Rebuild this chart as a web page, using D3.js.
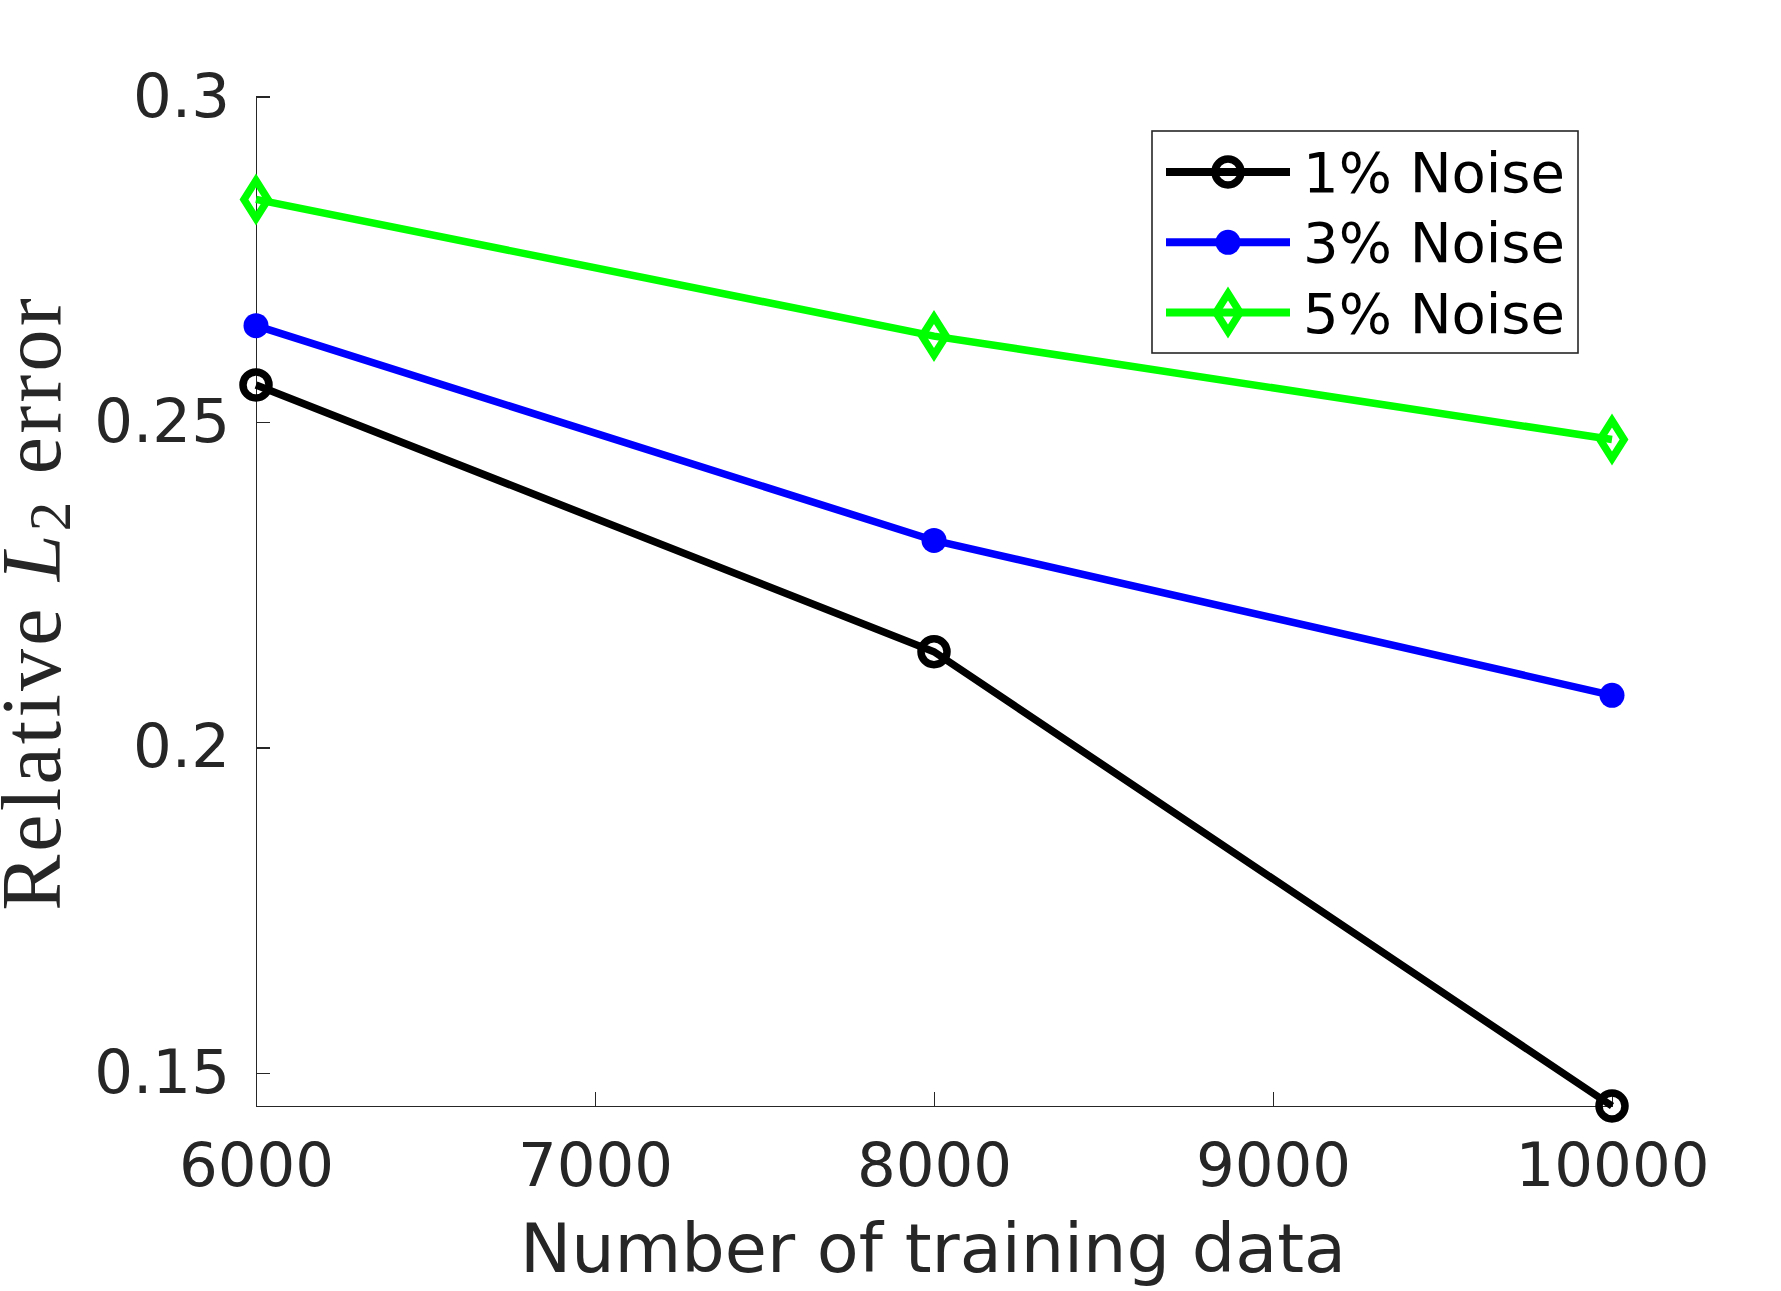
<html>
  <head>
    <meta charset="utf-8">
    <title>noise error</title>
    <style>
      body { margin: 0; background: #fff; }
      .axis path, .axis line { fill: none; stroke: #262626; stroke-width: 1.6; shape-rendering: crispEdges; }
      .axis text { font-family: "DejaVu Sans", sans-serif; font-size: 61px; fill: #262626; }
    </style>
  </head>
  <body>
    <script src="https://cdn.jsdelivr.net/npm/d3@7"></script>
    <script>
      var width = 1781;
      var height = 1291;

      // data
      var trainSizes = [6000, 8000, 10000];
      var noise1 = [0.2557, 0.2147, 0.1449];
      var noise3 = [0.2648, 0.2318, 0.2080];
      var noise5 = [0.2842, 0.2632, 0.2473];
      var seriesNames = ['1% Noise', '3% Noise', '5% Noise'];
      var xTicks = [6000, 7000, 8000, 9000, 10000];
      var yTicks = [0.15, 0.2, 0.25, 0.3];

      var series = [
        {name: seriesNames[0], values: noise1, color: '#000000', marker: 'circle'},
        {name: seriesNames[1], values: noise3, color: '#0000ff', marker: 'dot'},
        {name: seriesNames[2], values: noise5, color: '#00ff00', marker: 'diamond'}
      ];

      var svg = d3.select('body').append('svg')
        .attr('width', width).attr('height', height);

      var xScale = d3.scaleLinear().domain([6000, 10000]).range([256, 1612]);
      var yScale = d3.scaleLinear().domain([0.1449, 0.3]).range([1106, 96.6]);

      var xAxis = d3.axisBottom(xScale).tickValues(xTicks)
        .tickSizeInner(-14).tickSizeOuter(0).tickPadding(37)
        .tickFormat(d3.format('d'));
      var yAxis = d3.axisLeft(yScale).tickValues(yTicks)
        .tickSizeInner(-14).tickSizeOuter(0).tickPadding(26)
        .tickFormat(function(d){ return String(d); });

      svg.append('g').attr('class', 'axis')
        .attr('transform', 'translate(0,1106)').call(xAxis);
      svg.append('g').attr('class', 'axis')
        .attr('transform', 'translate(256,0)').call(yAxis);

      // axis labels
      svg.append('text')
        .attr('x', 933).attr('y', 1272)
        .attr('text-anchor', 'middle')
        .style('font-family', '"DejaVu Sans", sans-serif')
        .style('font-size', '68.5px').style('fill', '#262626')
        .text('Number of training data');

      var ylab = svg.append('text')
        .attr('transform', 'translate(60,603) rotate(-90)')
        .attr('text-anchor', 'middle')
        .style('font-family', '"Liberation Serif", serif')
        .style('font-size', '84px').style('letter-spacing', '3.2px')
        .style('fill', '#262626');
      ylab.append('tspan').text('Relative ');
      ylab.append('tspan').style('font-style', 'italic').text('L');
      ylab.append('tspan').attr('dy', 10).style('font-size', '59px').text('2');
      ylab.append('tspan').attr('dy', -10).text(' error');

      var line = d3.line()
        .x(function(d, i){ return xScale(trainSizes[i]); })
        .y(function(d){ return yScale(d); });

      function drawMarker(g, type, color, cx, cy) {
        if (type === 'circle') {
          g.append('circle').attr('cx', cx).attr('cy', cy).attr('r', 13)
            .attr('fill', 'none').attr('stroke', color).attr('stroke-width', 7.5);
        } else if (type === 'dot') {
          g.append('circle').attr('cx', cx).attr('cy', cy).attr('r', 12.5)
            .attr('fill', color);
        } else {
          g.append('path')
            .attr('d', 'M' + cx + ',' + (cy - 19) + 'L' + (cx + 12) + ',' + cy +
                       'L' + cx + ',' + (cy + 19) + 'L' + (cx - 12) + ',' + cy + 'Z')
            .attr('fill', 'none').attr('stroke', color).attr('stroke-width', 7.5);
        }
      }

      series.forEach(function(s){
        var g = svg.append('g');
        g.append('path').datum(s.values)
          .attr('d', line)
          .attr('fill', 'none').attr('stroke', s.color).attr('stroke-width', 7.5);
        s.values.forEach(function(v, i){
          drawMarker(g, s.marker, s.color, xScale(trainSizes[i]), yScale(v));
        });
      });

      // legend
      var legend = svg.append('g');
      legend.append('rect')
        .attr('x', 1152).attr('y', 131).attr('width', 426).attr('height', 222)
        .attr('fill', '#fff').attr('stroke', '#262626').attr('stroke-width', 1.6);
      series.forEach(function(s, i){
        var y = 172 + i * 70.3;
        legend.append('line').attr('x1', 1166).attr('x2', 1290)
          .attr('y1', y).attr('y2', y)
          .attr('stroke', s.color).attr('stroke-width', 8);
        drawMarker(legend, s.marker, s.color, 1228, y);
        legend.append('text').attr('x', 1303).attr('y', y).attr('dy', '0.36em')
          .style('font-family', '"DejaVu Sans", sans-serif')
          .style('font-size', '56px').style('fill', '#000')
          .text(s.name);
      });
    </script>
  </body>
</html>
